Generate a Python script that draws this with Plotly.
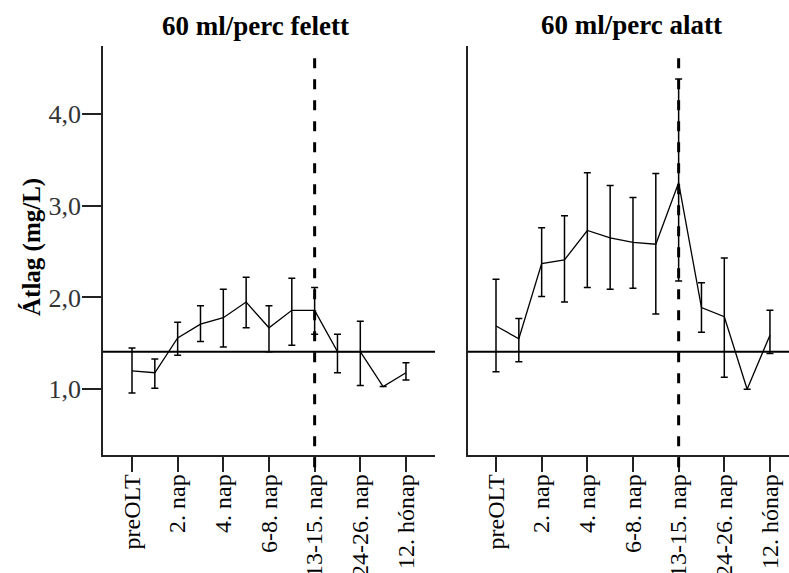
import plotly.graph_objects as go

# measurement occasions (13 per panel); only every second one is labelled
tick_labels = ["preOLT", "2. nap", "4. nap", "6-8. nap", "13-15. nap", "24-26. nap", "12. hónap"]
n_points = 13
x_idx = list(range(n_points))

# panel 1: 60 ml/perc felett
mean_felett = [1.20, 1.18, 1.56, 1.71, 1.78, 1.95, 1.67, 1.86, 1.86, 1.41, 1.41, 1.03, 1.18]
upper_felett = [1.45, 1.33, 1.73, 1.91, 2.09, 2.22, 1.91, 2.21, 2.11, 1.60, 1.74, None, 1.29]
lower_felett = [0.96, 1.01, 1.37, 1.52, 1.46, 1.67, 1.41, 1.48, 1.60, 1.18, 1.04, None, 1.10]

# panel 2: 60 ml/perc alatt
mean_alatt = [1.69, 1.55, 2.37, 2.41, 2.73, 2.65, 2.60, 2.58, 3.25, 1.89, 1.79, 1.00, 1.59]
upper_alatt = [2.20, 1.77, 2.76, 2.89, 3.36, 3.22, 3.09, 3.35, 4.38, 2.16, 2.43, None, 1.86]
lower_alatt = [1.19, 1.30, 2.01, 1.95, 2.11, 2.09, 2.10, 1.82, 2.18, 1.62, 1.13, None, 1.39]

ref_level = 1.41
marker_index = 8  # 13-15. nap

panel_titles = ["60 ml/perc felett", "60 ml/perc alatt"]
y_title = "Átlag (mg/L)"
y_ticks = [1.0, 2.0, 3.0, 4.0]
y_ticklabels = ["1,0", "2,0", "3,0", "4,0"]

SERIF = "Liberation Serif, Times New Roman, serif"
W, H = 789, 573


def err(mean, upper, lower):
    plus = [(u - m) if u is not None else float("nan") for m, u in zip(mean, upper)]
    minus = [(m - l) if l is not None else float("nan") for m, l in zip(mean, lower)]
    return plus, minus


fig = go.Figure()
for i, (m, u, l) in enumerate([(mean_felett, upper_felett, lower_felett),
                               (mean_alatt, upper_alatt, lower_alatt)]):
    plus, minus = err(m, u, l)
    xa = "x" if i == 0 else "x2"
    ya = "y" if i == 0 else "y2"
    fig.add_trace(go.Scatter(
        x=x_idx, y=m, mode="lines", xaxis=xa, yaxis=ya,
        line=dict(color="black", width=1.3),
        error_y=dict(type="data", symmetric=False, array=plus, arrayminus=minus,
                     color="black", thickness=1.5, width=3.5),
        showlegend=False, hoverinfo="skip"))

# pixel geometry
left_px = (103, 435)
right_px = (468, 789)
top_px, bottom_px = 46, 455
step = 22.83
x0_left = 132
x0_right = 496

def rng(px, x0):
    return [(px[0] - x0) / step, (px[1] - x0) / step]

y_range = [0.284, 4.74]
ydom = [1 - bottom_px / H, 1 - top_px / H]

axis_common = dict(showgrid=False, zeroline=False, showline=True, linecolor="#222",
                   linewidth=1.5, ticks="outside", tickcolor="#222", tickwidth=1.5,
                   ticklen=15, tickfont=dict(family=SERIF, size=24, color="black"),
                   tickangle=-90, tickmode="array", automargin=False,
                   ticklabelstandoff=-7,
                   tickvals=x_idx[::2], ticktext=tick_labels)

fig.update_layout(
    width=W, height=H, margin=dict(l=0, r=0, t=0, b=0, autoexpand=False),
    paper_bgcolor="white", plot_bgcolor="white",
    xaxis=dict(domain=[left_px[0] / W, left_px[1] / W], range=rng(left_px, x0_left),
               anchor="y", **axis_common),
    xaxis2=dict(domain=[right_px[0] / W, 1.0], range=rng(right_px, x0_right),
                anchor="y2", **axis_common),
    yaxis=dict(domain=ydom, range=y_range, anchor="x", showgrid=False, zeroline=False,
               showline=True, linecolor="#222", linewidth=1.5, ticks="outside",
               tickcolor="#222", tickwidth=1.5, ticklen=19, tickmode="array",
               tickvals=y_ticks, ticktext=y_ticklabels, automargin=False,
               ticklabelstandoff=-4,
               tickfont=dict(family=SERIF, size=26, color="#333")),
    yaxis2=dict(domain=ydom, range=y_range, anchor="x2", showgrid=False, zeroline=False,
                showline=True, linecolor="#222", linewidth=1.5, showticklabels=False,
                ticks="", automargin=False),
)

# reference line and dashed marker in both panels
for xa, ya in [("x", "y"), ("x2", "y2")]:
    fig.add_shape(type="line", xref=xa + " domain", yref=ya, x0=0, x1=1,
                  y0=ref_level, y1=ref_level, line=dict(color="black", width=2))
    fig.add_shape(type="line", xref=xa, yref=ya + " domain", x0=marker_index, x1=marker_index,
                  y0=-0.03, y1=0.98, line=dict(color="black", width=3, dash="10px,11px"))

# y-axis title
fig.add_annotation(text="<b>" + y_title + "</b>", xref="paper", yref="paper",
                   x=32 / W, y=1 - 247 / H, showarrow=False, textangle=-90,
                   xanchor="center", yanchor="middle",
                   font=dict(family=SERIF, size=25, color="black"))

# panel titles
fig.add_annotation(text="<b>" + panel_titles[0] + "</b>", xref="paper", yref="paper",
                   x=256 / W, y=1 - 26 / H, showarrow=False, xanchor="center", yanchor="middle",
                   font=dict(family=SERIF, size=27, color="black"))
fig.add_annotation(text="<b>" + panel_titles[1] + "</b>", xref="paper", yref="paper",
                   x=631 / W, y=1 - 25 / H, showarrow=False, xanchor="center", yanchor="middle",
                   font=dict(family=SERIF, size=27, color="black"))

fig.write_html("out.html", config={"displayModeBar": False},
               post_script="document.body.style.margin='0';")
